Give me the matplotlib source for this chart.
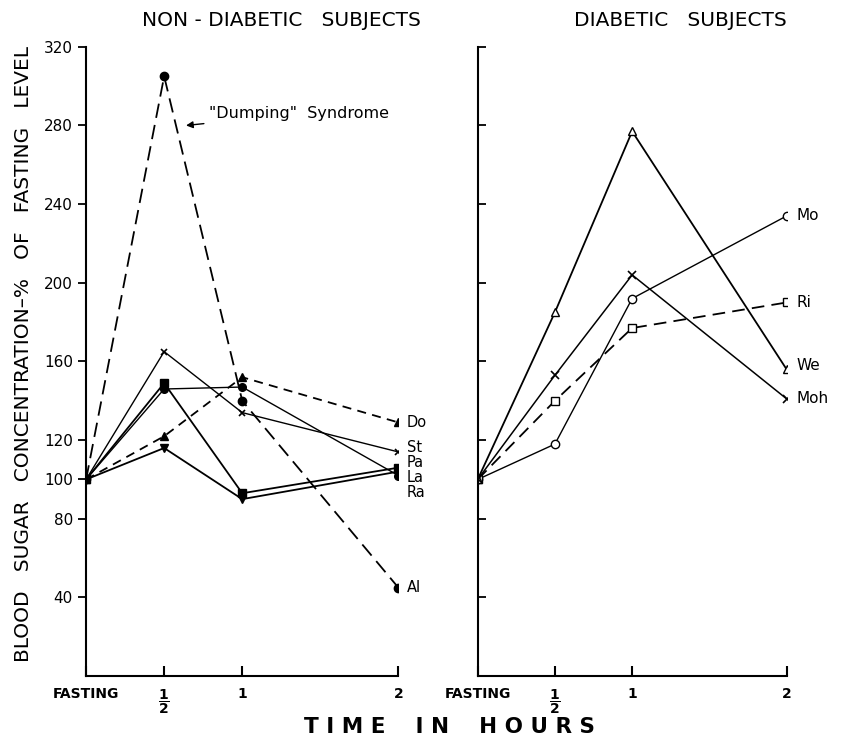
import matplotlib
matplotlib.use("Agg")
import matplotlib.pyplot as plt

# time points (hours)
hours = [0, 0.5, 1, 2]
hour_labels = ["FASTING", r"$\dfrac{\mathbf{1}}{\mathbf{2}}$", "1", "2"]
y_ticks = [40, 80, 100, 120, 160, 200, 240, 280, 320]

# non-diabetic subjects, % of fasting level
al = [100, 305, 140, 45]
do = [100, 122, 152, 129]
st = [100, 165, 134, 114]
pa = [100, 149, 93, 106]
la = [100, 146, 147, 102]
ra = [100, 116, 90, 104]

# diabetic subjects
mo = [100, 118, 192, 234]
ri = [100, 140, 177, 190]
we = [100, 185, 277, 156]
moh = [100, 153, 204, 141]

fig = plt.figure(figsize=(8.44, 7.43), dpi=100)
ax1 = fig.add_axes([0.102, 0.090, 0.370, 0.847])
ax2 = fig.add_axes([0.566, 0.090, 0.366, 0.847])

lw = 1.3
# left panel
ax1.plot(hours, al, color='black', lw=lw, ls=(0, (8, 4)), marker='o', ms=6)
ax1.plot(hours, do, color='black', lw=lw, ls=(0, (5, 3.5)), marker='^', ms=6)
ax1.plot(hours, st, color='black', lw=1.0, marker='x', ms=5, mew=1.2)
ax1.plot(hours, pa, color='black', lw=lw, marker='s', ms=5.5)
ax1.plot(hours, la, color='black', lw=1.0, marker='o', ms=5.5)
ax1.plot(hours, ra, color='black', lw=lw, marker='v', ms=6)

for name, vals, dy in [("Do", do, 0), ("St", st, 3.5), ("Pa", pa, 3.5),
                       ("La", la, -1.5), ("Ra", ra, -15), ("Al", al, 0)]:
    ax1.annotate(name, (2, vals[-1]), xytext=(6, dy), textcoords='offset points',
                 va='center', ha='left', fontsize=10.5)

ax1.annotate('"Dumping"  Syndrome', xy=(0.64, 280), xytext=(0.79, 286),
             fontsize=11.5, va='center', ha='left',
             arrowprops=dict(arrowstyle='-|>', color='black', lw=1.0,
                             shrinkA=2, shrinkB=0, mutation_scale=10))

# right panel
ax2.plot(hours, mo, color='black', lw=1.0, marker='o', ms=6, mfc='white')
ax2.plot(hours, ri, color='black', lw=lw, ls=(0, (7, 4)), marker='s', ms=5.5, mfc='white')
ax2.plot(hours, we, color='black', lw=lw, marker='^', ms=6, mfc='white')
ax2.plot(hours, moh, color='black', lw=1.1, marker='x', ms=6, mew=1.2)

for name, vals, dy in [("Mo", mo, 0), ("Ri", ri, 0), ("We", we, 3), ("Moh", moh, 0)]:
    ax2.annotate(name, (2, vals[-1]), xytext=(7, dy), textcoords='offset points',
                 va='center', ha='left', fontsize=11)

for ax in (ax1, ax2):
    ax.set_xlim(0, 2)
    ax.set_ylim(0, 320)
    ax.spines['top'].set_visible(False)
    ax.spines['right'].set_visible(False)
    ax.spines['left'].set_linewidth(1.5)
    ax.spines['bottom'].set_linewidth(1.5)
    ax.set_xticks(hours)
    ax.set_xticklabels(hour_labels, fontsize=10, fontweight='bold', va='top')
    ax.tick_params(axis='x', direction='in', length=7, width=1.5, pad=8)

ax1.set_yticks(y_ticks)
ax1.set_yticklabels([str(v) for v in y_ticks], fontsize=11)
ax1.tick_params(axis='y', direction='out', length=6, width=1.3)
ax2.set_yticks([v for v in y_ticks if v != 100])
ax2.set_yticklabels([])
ax2.tick_params(axis='y', direction='in', length=6, width=1.3)

fig.text(0.334, 0.972, "NON - DIABETIC   SUBJECTS", ha='center', va='center', fontsize=14.5)
fig.text(0.806, 0.972, "DIABETIC   SUBJECTS", ha='center', va='center', fontsize=14.5)

fig.text(0.028, 0.524, "BLOOD   SUGAR   CONCENTRATION–%   OF   FASTING   LEVEL",
         rotation=90, ha='center', va='center', fontsize=14.5)
fig.text(0.533, 0.021, "T I M E    I N    H O U R S",
         ha='center', va='center', fontsize=15.5, fontweight='heavy')

fig.savefig("out.png", dpi=100)
